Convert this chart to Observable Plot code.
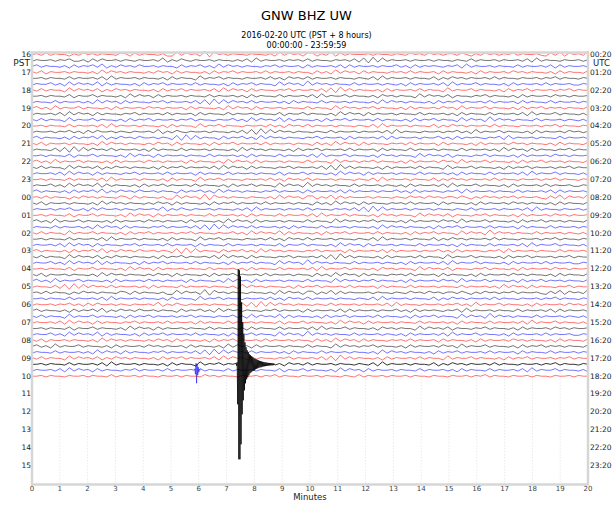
<!DOCTYPE html>
<html><head><meta charset="utf-8">
<script src="https://cdn.jsdelivr.net/npm/d3@7"></script>
<script src="https://cdn.jsdelivr.net/npm/@observablehq/plot@0.6"></script>
<style>
body{margin:0;background:#fff;font-family:"DejaVu Sans",sans-serif;}
#wrap{position:relative;width:613px;height:506px;overflow:hidden;background:#fff;}
.t{position:absolute;left:0;width:613px;text-align:center;color:#000;line-height:1;white-space:nowrap;}
#title{top:9px;font-size:13px;}
#sub1{top:32px;font-size:8px;}
#sub2{top:41.5px;font-size:8px;}
#chart{position:absolute;left:0;top:48px;}
</style></head><body>
<div id="wrap">
<div id="title" class="t">GNW BHZ UW</div>
<div id="sub1" class="t">2016-02-20 UTC (PST + 8 hours)</div>
<div id="sub2" class="t">00:00:00 - 23:59:59</div>
<div id="chart"></div>
</div>
<script>
// Hour labels
const pstLabels = ["16","17","18","19","20","21","22","23","00","01","02","03","04","05","06","07","08","09","10","11","12","13","14","15"];
const utcLabels = ["00:20","01:20","02:20","03:20","04:20","05:20","06:20","07:20","08:20","09:20","10:20","11:20","12:20","13:20","14:20","15:20","16:20","17:20","18:20","19:20","20:20","21:20","22:20","23:20"];
const minuteTicks = d3.range(0, 21);
const traceColors = ["red", "black", "blue"];

// Trace samples (digit 4 = zero line, one digit step ~0.8 px), 20 minutes per trace
const traces = [
"453635442536453544365263544352273645281745354435443527364526625372635444535443543645364535536425364535463544532637264538",
"354453546335263644535435445372536435445354435362735445354536354435453627182735445354453544354363544535445362735443544535",
"463544352635463725364536445354426354635273645354435463544526354453626354453544635263545435462735445354436354453626354453",
"536254453544352736453544353645263544352635463544536354453544263527364526354435453635445263544352635445364535443526354436",
"445354436354453627354453544352635442735463544354453635264536354453544354362735445354436253645354453635443544535463544354",
"354463527364537263544352635463544536354435263546354427364528364535443635445354352635445362735446354435263544536354453354",
"536354427364536253645354435263546354453627364526354435463544536271836354435263544536354427354463544352635463544535463544",
"445354436254463544352736452635445354436354453526354436354453627354463544352645354427364536254435463544352635445364535445",
"354436354453527364526354435463544536271827364536354453526354436354453544352736453544352635463544536354452635443635445354",
"463527354463544352635445364535445263544352736452635445354436354427364535463544352635445364527354463544352635463545354436",
"354453627364526354435463544536354452635443635445354436254463544352736452635445354436354453526354436354453627354463544352",
"536354427354463544352635463544535463544354463527364537263544352635463544536354435263546354427364528364535443635445354352",
"445354436354453627354453544352635442735463544354453635264536354453544354362735445354436253645354453635443544535463544354",
"354453546352636445354354453725364354453544353627182736453544354363544535445362735443544535463527354463544352635445364535",
"463544352635463725364536445354271827354426354635273645354435463544526354453626354453544635263545435462735445354436354453",
"536254453544352736453544353645263544352635463544536354453544263527364526354435453635445263544352635445364535443526354436",
"354436271827364536354453526354436354453544352736453544352635463544536354452635443635445354436354453527364526354435463544",
"445354436254463544352736452635445354436354453526354436354453627354463544352645354427364536254435463544352635445364535445",
"463527354463544352635445364535445263544352736452635445354436354427364535463544352635445364527354463544352635463545354436",
"536354427364536253645354435263546354453627364526354435463544536271836354435263544536354427354463544352635463544535463544",
"354453627364526354435463544536354452635443635445354436254463544352736452635445354436354453526354436354453627354463544352",
"445354436354453627354453544352635442735463544354453635264536354453544354362735445354436253645354453635443544535463544354",
"354463527364537263544352635463544536354435263546354427364528364535443635445354352635445362735446354435263544536354453354",
"463544352635463725364536445354426354635273645354435463544526354453626354453544635263545435462735445354436354453626354453",
"453635442536453544365263544352273645281745354435443527364526625372635444535443543645364535536425364535463544532637264538",
"536254453544352736453544353645263544352635463544536354453544263527364526354435453635445263544352635445364535443526354436",
"354453546335263644535435445372536435445354435362735445354536354435453627182735445354453544354363544535445362735443544535",
"445354436254463544352736452635445354436354453526354436354453627354463544352645354427364536254435463544352635445364535445",
"463527354463544352635445364535445263544352736452635445354436354427364535463544352635445364527354463544352635463545354436",
"354436354453527364526354435463544536271827364536354453526354436354453544352736453544352635463544536354452635443635445354",
"536354427354463544352635463544535463544354463527364537263544352635463544536354435263546354427364528364535443635445354352",
"445354436354453627354453544352635442735463544354453635264536354453544354362735445354436253645354453635443544535463544354",
"354453627364526354435463544536354452635443635445354436254463544352736452635445354436354453526354436354453627354463544352",
"463544352635463725364536445354271827354426354635273645354435463544526354453626354453544635263545435462735445354436354453",
"536354427364536253645354435263546354453627364526354435463544536271836354435263544536354427354463544352635463544535463544",
"354463527364537263544352635463544536354435263546354427364528364535443635445354352635445362735446354435263544536354453354",
"445354436254463544352736452635445354436354453526354436354453627354463544352645354427364536254435463544352635445364535445",
"536254453544352736453544353645263544352635463544536354453544263527364526354435453635445263544352635445364535443526354436",
"463527354463544352635445364535445263544352736452635445354436354427364535463544352635445364527354463544352635463545354436",
"354436271827364536354453526354436354453544352736453544352635463544536354452635443635445354436354453527364526354435463544",
"453635442536453544365263544352273645281745354435443527364526625372635444535443543645364535536425364535463544532637264538",
"445354436354453627354453544352635442735463544354453635264536354453544354362735445354436253645354453635443544535463544354",
"354453546352636445354354453725364354453544353627182736453544354363544535445362735443544535463527354463544352635445364535",
"463544352635463725364536445354426354635273645354435463544526354453626354453544635263545435462735445354436354453626354453",
"536354427354463544352635463544535463544354463527364537263544352635463544536354435263546354427364528364535443635445354352",
"354453627364526354435463544536354452635443635445354436254463544352736452635445354436354453526354436354453627354463544352",
"445354436254463544352736452635445354436354453526354436354453627354463544352645354427364536254435463544352635445364535445",
"354463527364537263544352635463544536354435263546354427364528364535443635445354352635445362735446354435263544536354453354",
"536254453544352736453544353645263544352635463544536354453544263527364526354435453635445263544352635445364535443526354436",
"463527354463544352635445364535445263544352736452635445354436354427364535463544352635445364527354463544352635463545354436",
"354436354453527364526354435463544536271827364536354453526354436354453544352736453544352635463544536354452635443635445354",
"536354427364536253645354435263546354453627364526354435463544536271836354435263544536354427354463544352635463544535463544",
"445354436354453627354453544352635442735463544354453635264536354453544354362735445354436253645354453635443544535463544354",
"354453627364526354435463544536354452635443635445354436254463544352736452635445354436354453526354436354453627354463544352",
"445354435445354436354453544354453544364535443544535463544354453544354363544535445354435443544535463544354453544354453544"
];

// Earthquake on the 17:20 UTC trace (values in pixels, up positive)
const quakeTrace = 52;
const quakeStart = 7.34;
const quakeStep = 0.02;
const quakeValues = [1,-1.5,2,-40,95,-95,94,-95,88,-80,62,-50,42,-36,30,-26,22,-19,17,-15,14,-13,12,-11,10,-9,9,-8,8,-7,7,-6.5,6,-6,5.5,-5,5,-4.5,4.5,-4,4,-3.5,3.5,-3,3,-3,2.8,-2.5,2.5,-2.2,2.2,-2,2,-1.8,1.8,-1.6,1.5,-1.5,1.4,-1.3,1.3,-1.2,1.2,-1,1,-1,0.9,-0.9,0.8];

// Small local event on the 17:40 UTC trace
const blipTrace = 53;
const blipStart = 5.84;
const blipStep = 0.02;
const blipValues = [0,1.5,-4,7,-13,6,-5,3,-2,1,0];

const unitPx = 0.8;
const yTop = -0.336, yBottom = 72.18;
const plotH = 458, mTop = 4, mBottom = 22;
const rowPx = (plotH - mTop - mBottom) / (yBottom - yTop);

function withEvent(pts, start, step, values) {
  const end = start + step * (values.length - 1);
  const kept = pts.filter(p => p.t < start || p.t > end);
  values.forEach((v, k) => kept.push({t: start + k * step, px: v}));
  return kept.sort((a, b) => a.t - b.t);
}

const baseRows = [], quakeRows = [];
traces.forEach((s, i) => {
  const n = s.length;
  let pts = Array.from(s, (c, k) => ({t: 20 * k / (n - 1), px: (+c - 4) * unitPx}));
  if (i === quakeTrace) pts = withEvent(pts, quakeStart, quakeStep, quakeValues);
  if (i === blipTrace) pts = withEvent(pts, blipStart, blipStep, blipValues);
  const color = traceColors[i % 3];
  const target = i === quakeTrace ? quakeRows : baseRows;
  for (const p of pts) target.push({trace: i, t: p.t, y: i - p.px / rowPx, color});
});

const chart = Plot.plot({
  width: 613,
  height: plotH,
  marginLeft: 31.5,
  marginRight: 25.5,
  marginTop: mTop,
  marginBottom: mBottom,
  style: {background: "transparent", fontFamily: "DejaVu Sans, sans-serif", overflow: "visible"},
  x: {domain: [0, 20]},
  y: {domain: [yTop, yBottom], reverse: true, axis: null},
  color: {type: "identity"},
  marks: [
    Plot.ruleX(minuteTicks.slice(1, -1), {stroke: "#e4e4e4", strokeWidth: 0.8, strokeDasharray: "1.5,1.5"}),
    Plot.line(baseRows, {x: "t", y: "y", z: "trace", stroke: "color", strokeWidth: 0.55}),
    Plot.line(quakeRows, {x: "t", y: "y", z: "trace", stroke: "color", strokeWidth: 0.8}),
    Plot.frame({stroke: "#d6d6d6", strokeWidth: 2.5}),
    Plot.text(pstLabels, {x: 0, y: (d, j) => j * 3, text: d => d, textAnchor: "end", dx: -1, fontSize: 7.5, fill: "#222"}),
    Plot.text(utcLabels, {x: 20, y: (d, j) => j * 3, text: d => d, textAnchor: "start", dx: 2, fontSize: 7.5, fill: "#222"}),
    Plot.text(["PST"], {x: 0, y: 1.5, text: d => d, textAnchor: "end", dx: -2, fontSize: 9, fill: "#222"}),
    Plot.text(["UTC"], {x: 20, y: 1.5, text: d => d, textAnchor: "start", dx: 5, fontSize: 8.5, fill: "#222"}),
    Plot.axisX(minuteTicks, {tickSize: 0, tickPadding: 2, fontSize: 7, fill: "#444", label: null}),
    Plot.text(["Minutes"], {x: 10, frameAnchor: "bottom", dy: 15.5, text: d => d, fontSize: 8.5, fill: "#222"})
  ]
});
document.getElementById("chart").append(chart);
</script>
</body></html>
